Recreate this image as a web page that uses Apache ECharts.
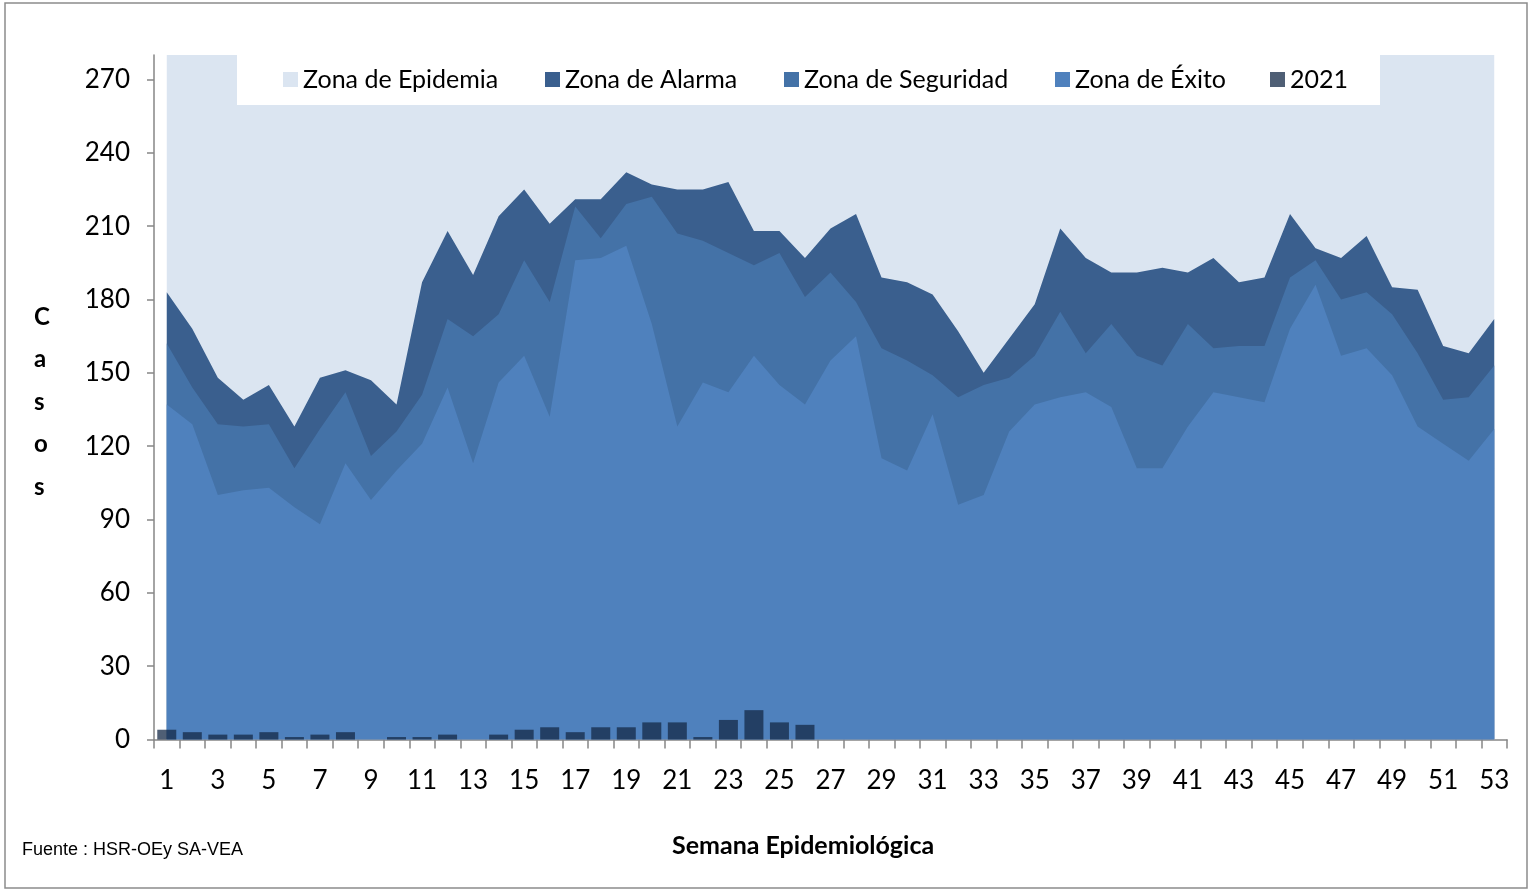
<!DOCTYPE html>
<html lang="es">

<head>
    <meta charset="UTF-8">
    <script src="https://cdn.jsdelivr.net/npm/echarts@6/dist/echarts.min.js"></script>
    <title>Canal endémico 2021</title>
    <style>
        body { margin: 0; background: #fff; }
    </style>
</head>

<body>
    <div id="main" style="width: 1530px;height:891px;"></div>
    <script>
        // semanas epidemiológicas
        var semanas = [];
        for (var i = 1; i <= 53; i++) semanas.push(String(i));

        // límite superior de cada zona (casos)
        var epidemia = [280, 280, 280, 280, 280, 280, 280, 280, 280, 280, 280, 280, 280, 280, 280, 280, 280, 280, 280, 280,
            280, 280, 280, 280, 280, 280, 280, 280, 280, 280, 280, 280, 280, 280, 280, 280, 280, 280, 280, 280,
            280, 280, 280, 280, 280, 280, 280, 280, 280, 280, 280, 280, 280];
        var alarma = [183, 168, 148, 139, 145, 128, 148, 151, 147, 137, 187, 208, 190, 214, 225, 211, 221, 221, 232, 227,
            225, 225, 228, 208, 208, 197, 209, 215, 189, 187, 182, 167, 150, 164, 178, 209, 197, 191, 191, 193,
            191, 197, 187, 189, 215, 201, 197, 206, 185, 184, 161, 158, 172];
        var seguridad = [162, 144, 129, 128, 129, 111, 127, 142, 116, 126, 141, 172, 165, 174, 196, 179, 218, 205, 219, 222,
            207, 204, 199, 194, 199, 181, 191, 179, 160, 155, 149, 140, 145, 148, 157, 175, 158, 170, 157, 153,
            170, 160, 161, 161, 189, 196, 180, 183, 174, 158, 139, 140, 153];
        var exito = [137, 129, 100, 102, 103, 95, 88, 113, 98, 110, 121, 144, 113, 146, 157, 132, 196, 197, 202, 170,
            128, 146, 142, 157, 145, 137, 155, 165, 115, 110, 133, 96, 100, 126, 137, 140, 142, 136, 111, 111,
            128, 142, 140, 138, 168, 186, 157, 160, 149, 128, 121, 114, 127];
        // casos 2021 (hasta la semana 26)
        var casos2021 = [4, 3, 2, 2, 3, 1, 2, 3, 0, 1, 1, 2, 0, 2, 4, 5, 3, 5, 5, 7, 7, 1, 8, 12, 7, 6];

        var yTicks = [0, 30, 60, 90, 120, 150, 180, 210, 240, 270];

        var fuente = 'Lato, "Open Sans", sans-serif';

        function zona(nombre, datos, color) {
            return {
                name: nombre,
                type: 'line',
                data: datos,
                symbol: 'none',
                lineStyle: { width: 0 },
                areaStyle: { color: color, opacity: 1 },
                itemStyle: { color: color },
                emphasis: { disabled: true },
                z: 2
            };
        }

        function leyenda(nombre, x) {
            return {
                data: [nombre],
                left: x,
                top: 67,
                padding: 0,
                z: 20,
                itemWidth: 15,
                itemHeight: 15,
                icon: 'rect',
                textStyle: { fontSize: 25, color: '#000', fontFamily: fuente }
            };
        }

        var myChart = echarts.init(document.getElementById('main'));
        var option = {
            animation: false,
            grid: { left: 154, right: 23, top: 55, bottom: 151.5 },
            legend: [
                leyenda('Zona de Epidemia', 283),
                leyenda('Zona de Alarma', 545),
                leyenda('Zona de Seguridad', 784),
                leyenda('Zona de Éxito', 1055),
                leyenda('2021', 1270)
            ],
            xAxis: {
                type: 'category',
                data: semanas,
                boundaryGap: true,
                axisLine: { lineStyle: { color: '#868686', width: 1.5 } },
                axisTick: { show: true, length: 9, interval: 0, lineStyle: { color: '#868686', width: 1.5 } },
                axisLabel: { interval: 1, margin: 28, fontSize: 26, color: '#000', fontFamily: fuente }
            },
            yAxis: {
                type: 'value',
                min: 0,
                max: 280,
                splitLine: { show: false },
                axisLine: { show: true, lineStyle: { color: '#868686', width: 1.5 } },
                axisTick: { show: true, length: 7, customValues: yTicks, lineStyle: { color: '#868686', width: 1.5 } },
                axisLabel: { customValues: yTicks, margin: 24, fontSize: 26, color: '#000', fontFamily: fuente }
            },
            graphic: [
                // marco del gráfico
                { type: 'rect', shape: { x: 5, y: 3, width: 1522, height: 885 }, style: { fill: 'none', stroke: '#8c8c8c', lineWidth: 1.5 }, z: 0 },
                // fondo blanco de la leyenda
                { type: 'rect', shape: { x: 237, y: 55, width: 1143, height: 50 }, style: { fill: '#fff' }, z: 10 },
                {
                    type: 'text', left: 34, top: 296, z: 10,
                    style: { text: 'C\na\ns\no\ns', fontSize: 24, fontWeight: 'bold', lineHeight: 42.5, fill: '#000', fontFamily: fuente, align: 'center' }
                },
                {
                    type: 'text', left: 672, top: 833, z: 10,
                    style: { text: 'Semana Epidemiológica', fontSize: 25, fontWeight: 'bold', fill: '#000', fontFamily: fuente }
                },
                {
                    type: 'text', left: 22, top: 841, z: 10,
                    style: { text: 'Fuente : HSR-OEy SA-VEA', fontSize: 18, fill: '#000', fontFamily: '"Liberation Sans Narrow", "Liberation Sans", sans-serif' }
                }
            ],
            series: [
                zona('Zona de Epidemia', epidemia, '#dbe5f1'),
                zona('Zona de Alarma', alarma, '#3a5f8e'),
                zona('Zona de Seguridad', seguridad, '#4472a7'),
                zona('Zona de Éxito', exito, '#4f81bd'),
                {
                    name: '2021',
                    type: 'bar',
                    data: casos2021,
                    barWidth: 19,
                    z: 5,
                    itemStyle: { color: 'rgba(20, 42, 71, 0.75)' },
                    emphasis: { disabled: true }
                }
            ]
        };
        myChart.setOption(option);
    </script>
</body>

</html>
